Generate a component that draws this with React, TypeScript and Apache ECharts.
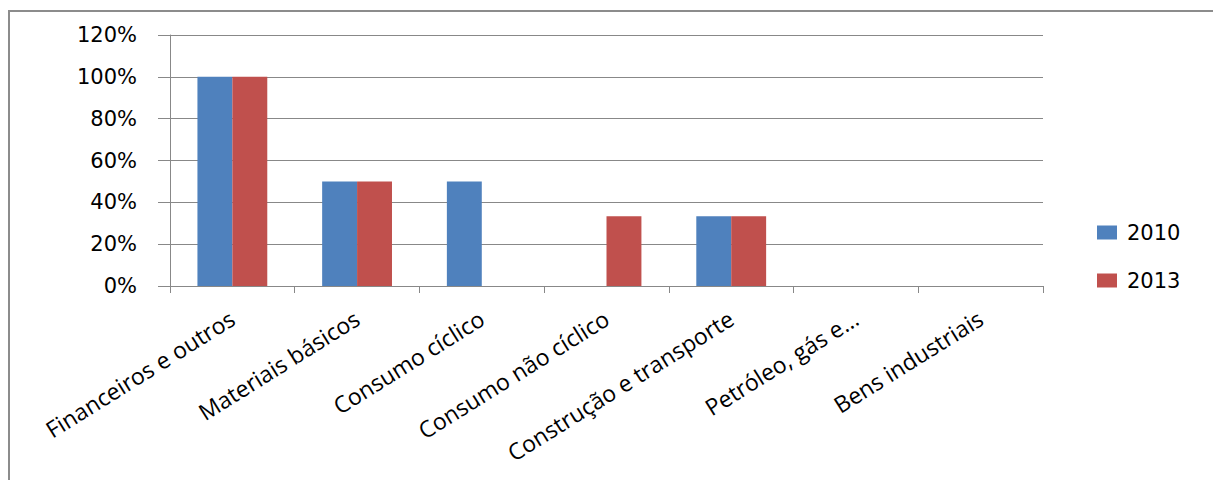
import React, { useEffect, useRef } from "react";
import * as echarts from "echarts";

const categories = [
  "Financeiros e outros",
  "Materiais básicos",
  "Consumo cíclico",
  "Consumo não cíclico",
  "Construção e transporte",
  "Petróleo, gás e…",
  "Bens industriais",
];
const series2010 = [100, 50, 50, 0, 33.3, 0, 0];
const series2013 = [100, 50, 0, 33.3, 33.3, 0, 0];
const seriesNames = ["2010", "2013"];
const yTicks = { min: 0, max: 120, interval: 20 };

export default function App() {
  const ref = useRef<HTMLDivElement>(null);
  useEffect(() => {
    document.body.style.margin = "0";
    const chart = echarts.init(ref.current!, undefined, { renderer: "svg" });
    const gray = "#888888";
    chart.setOption({
      animation: false,
      backgroundColor: "#ffffff",
      graphic: [
        {
          type: "rect",
          shape: { x: 9, y: 11, width: 1400, height: 600 },
          style: { fill: "none", stroke: "#8c8c8c", lineWidth: 2 },
          silent: true,
        },
      ],
      grid: { left: 170, right: 170, top: 35, bottom: 194, containLabel: false },
      legend: {
        orient: "vertical",
        left: 1097,
        top: 222,
        padding: 0,
        itemWidth: 20,
        itemHeight: 14,
        itemGap: 27,
        icon: "rect",
        data: seriesNames,
        textStyle: {
          fontFamily: "DejaVu Sans",
          fontSize: 21,
          color: "#000",
          padding: [0, 0, 0, 5],
        },
      },
      xAxis: {
        type: "category",
        data: categories,
        axisLine: { lineStyle: { color: gray, width: 1 } },
        axisTick: { show: true, length: 7, lineStyle: { color: gray } },
        axisLabel: {
          interval: 0,
          rotate: 32,
          margin: 30,
          fontFamily: "Open Sans",
          fontSize: 23,
          color: "#000",
        },
      },
      yAxis: {
        type: "value",
        min: yTicks.min,
        max: yTicks.max,
        interval: yTicks.interval,
        axisLine: { show: true, lineStyle: { color: gray, width: 1 } },
        axisTick: { show: true, length: 12, lineStyle: { color: gray } },
        splitLine: { lineStyle: { color: gray, width: 1 } },
        axisLabel: {
          formatter: "{value}%",
          margin: 33,
          fontFamily: "DejaVu Sans",
          fontSize: 21,
          color: "#000",
        },
      },
      series: [
        {
          name: seriesNames[0],
          type: "bar",
          data: series2010,
          barGap: "0%",
          barCategoryGap: "44%",
          itemStyle: { color: "#4F81BD" },
        },
        {
          name: seriesNames[1],
          type: "bar",
          data: series2013,
          barGap: "0%",
          barCategoryGap: "44%",
          itemStyle: { color: "#C0504D" },
        },
      ],
    });
    return () => chart.dispose();
  }, []);
  return <div ref={ref} style={{ width: 1213, height: 480 }} />;
}
